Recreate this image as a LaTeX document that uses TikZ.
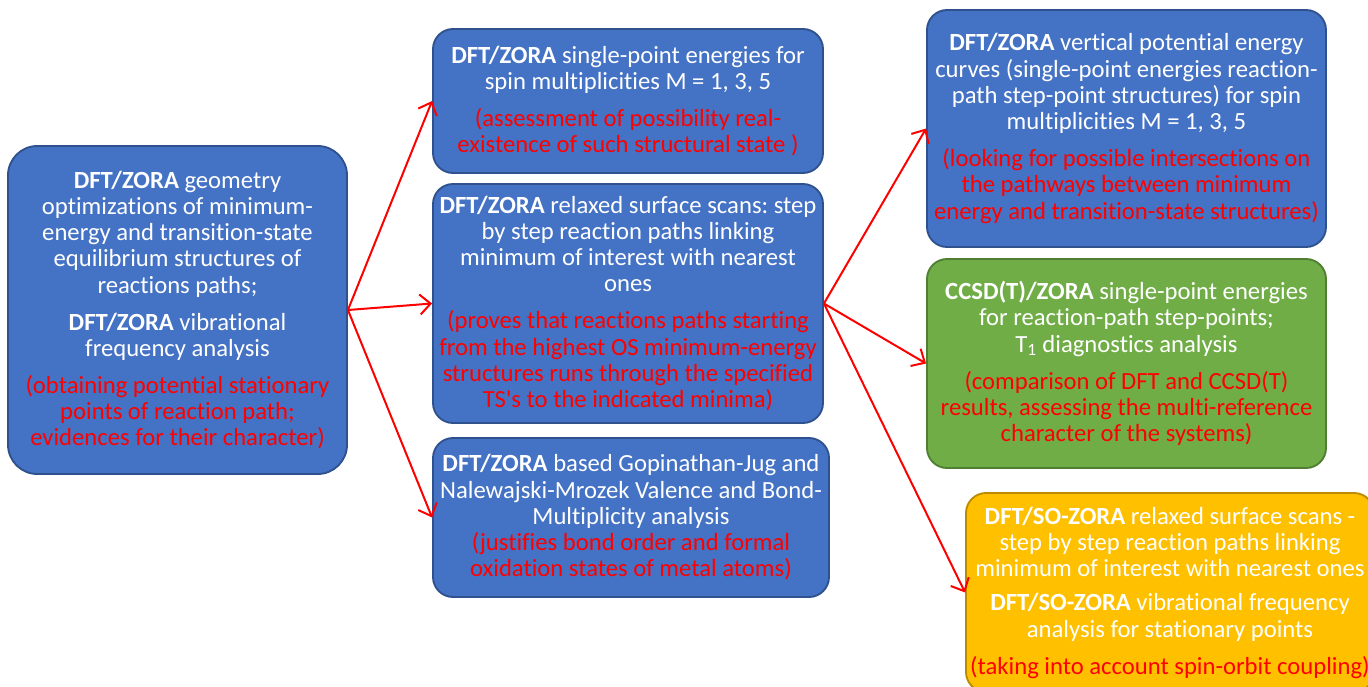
\documentclass[tikz,border=0pt]{standalone}
\usepackage{fontspec}
\setmainfont{Carlito}[Ligatures={NoCommon}]
\usetikzlibrary{arrows.meta}
\frenchspacing
\definecolor{boxblue}{HTML}{4472C4}
\definecolor{boxblueline}{HTML}{2F528F}
\definecolor{boxgreen}{HTML}{70AD47}
\definecolor{boxgreenline}{HTML}{507E32}
\definecolor{boxorange}{HTML}{FFC000}
\definecolor{boxorangeline}{HTML}{BC8C00}
\definecolor{notered}{HTML}{FF0000}
\newcommand{\rd}[1]{\textcolor{notered}{#1}}
\tikzset{
  box/.style={draw, line width=1.4pt, rounded corners=15pt, align=center,
    text=white, inner sep=0pt, font=\frenchspacing\fontsize{18.5}{19.7}\selectfont},
  bluebox/.style={box, fill=boxblue, draw=boxblueline},
  greenbox/.style={box, fill=boxgreen, draw=boxgreenline},
  orangebox/.style={box, fill=boxorange, draw=boxorangeline},
  link/.style={draw=red, line width=1.5pt,
    -{Straight Barb[length=8pt,width=15pt,line width=1.5pt]}}
}
\begin{document}
\begin{tikzpicture}[x=0.75pt,y=-0.75pt]
\useasboundingbox (0,0) rectangle (1368,686);
\fill[white] (0,0) rectangle (1368,686);

\node[bluebox, rounded corners=22pt, minimum width=254.25pt, minimum height=246pt] (geo) at (177.5,310)
 {\textbf{DFT/ZORA} geometry\\ optimizations of minimum-\\ energy and transition-state\\ equilibrium structures of\\ reactions paths;\\[8pt]
  \textbf{DFT/ZORA} vibrational\\ frequency analysis\\[8pt]
  \rd{(obtaining potential stationary}\\ \rd{points of reaction path;}\\ \rd{evidences for their character)}};

\node[bluebox, minimum width=292.5pt, minimum height=108pt] (sp) at (628,101)
 {\textbf{DFT/ZORA} single-point energies for\\ spin multiplicities M = 1, 3, 5\\[8pt]
  \rd{(assessment of possibility real-}\\ \rd{existence of such structural state )}};

\node[bluebox, minimum width=292.5pt, minimum height=179.25pt] (scan) at (628,303.5)
 {\textbf{DFT/ZORA} relaxed surface scans: step\\ by step reaction paths linking\\ minimum of interest with nearest\\ ones\\[8pt]
  \rd{(proves that reactions paths starting}\\ \rd{from the highest OS minimum-energy}\\ \rd{structures runs through the specified}\\ \rd{TS\textquotesingle s to the indicated minima)}};

\node[bluebox, minimum width=297pt, minimum height=119.25pt] (bond) at (631,517.5)
 {\textbf{DFT/ZORA} based Gopinathan-Jug and\\ Nalewajski-Mrozek Valence and Bond-\\ Multiplicity analysis\\
  \rd{(justifies bond order and formal}\\ \rd{oxidation states of metal atoms)}};

\node[bluebox, minimum width=299.25pt, minimum height=177.75pt] (vert) at (1126.5,128.5)
 {\textbf{DFT/ZORA} vertical potential energy\\ curves (single-point energies reaction-\\ path step-point structures) for spin\\ multiplicities M = 1, 3, 5\\[8pt]
  \rd{(looking for possible intersections on}\\ \rd{the pathways between minimum}\\ \rd{energy and transition-state structures)}};

\node[greenbox, minimum width=299.25pt, minimum height=156.75pt] (cc) at (1126.5,363.5)
 {\textbf{CCSD(T)/ZORA} single-point energies\\ for reaction-path step-points;\\ T\textsubscript{1} diagnostics analysis\\[8pt]
  \rd{(comparison of DFT and CCSD(T)}\\ \rd{results, assessing the multi-reference}\\ \rd{character of the systems)}};

\node[orangebox, minimum width=306pt, minimum height=149.25pt] (so) at (1170,592.5)
 {\textbf{DFT/SO-ZORA} relaxed surface scans -\\ step by step reaction paths linking\\ minimum of interest with nearest ones\\[6pt]
  \textbf{DFT/SO-ZORA} vibrational frequency\\ analysis for stationary points\\[8pt]
  \rd{(taking into account spin-orbit coupling)}};

\draw[link] (geo.east) -- (sp.west);
\draw[link] (geo.east) -- (scan.west);
\draw[link] (geo.east) -- (bond.west);
\draw[link] (scan.east) -- (vert.west);
\draw[link] (scan.east) -- (cc.west);
\draw[link] (scan.east) -- (so.west);
\end{tikzpicture}
\end{document}
